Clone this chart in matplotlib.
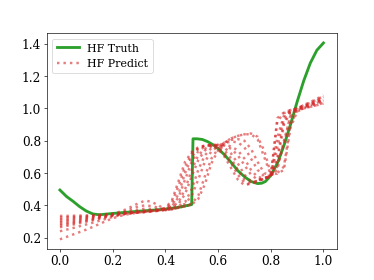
import matplotlib
matplotlib.use('Agg')
import matplotlib.pyplot as plt
import numpy as np

x_truth = [0.0, 0.025, 0.05, 0.075, 0.1, 0.125, 0.15, 0.2, 0.25, 0.3, 0.35, 0.4,
           0.45, 0.5, 0.505, 0.52, 0.54, 0.56, 0.58, 0.6, 0.625, 0.65, 0.675, 0.7,
           0.725, 0.75, 0.765, 0.78, 0.8, 0.825, 0.85, 0.875, 0.9, 0.925, 0.95,
           0.975, 1.0]
y_truth = [0.495, 0.455, 0.425, 0.392, 0.365, 0.347, 0.342, 0.350, 0.357, 0.364,
           0.370, 0.377, 0.388, 0.405, 0.812, 0.812, 0.808, 0.795, 0.776, 0.752,
           0.712, 0.665, 0.615, 0.578, 0.548, 0.535, 0.537, 0.548, 0.585, 0.660,
           0.770, 0.900, 1.040, 1.170, 1.280, 1.360, 1.405]

# HF predictions, one row per sample, on a 0.025 grid in x
x_pred = np.linspace(0.0, 1.0, 41)
hf_pred = [
    [0.335, 0.335, 0.336, 0.337, 0.338, 0.340, 0.342, 0.344, 0.346, 0.350, 0.353, 0.356, 0.360, 0.363, 0.366, 0.370,
     0.385, 0.430, 0.550, 0.670, 0.730, 0.760, 0.770, 0.770, 0.750, 0.700, 0.630, 0.560, 0.525, 0.535, 0.555, 0.570,
     0.580, 0.940, 0.975, 0.990, 1.000, 1.020, 1.040, 1.060, 1.080],
    [0.325, 0.327, 0.329, 0.331, 0.333, 0.336, 0.339, 0.342, 0.345, 0.348, 0.352, 0.356, 0.360, 0.365, 0.368, 0.372,
     0.375, 0.390, 0.420, 0.500, 0.620, 0.710, 0.750, 0.770, 0.775, 0.770, 0.750, 0.710, 0.650, 0.590, 0.560, 0.565,
     0.580, 0.700, 0.920, 0.980, 0.995, 1.010, 1.025, 1.040, 1.060],
    [0.315, 0.318, 0.321, 0.325, 0.329, 0.333, 0.337, 0.342, 0.348, 0.360, 0.375, 0.395, 0.415, 0.430, 0.420, 0.400,
     0.370, 0.375, 0.385, 0.395, 0.410, 0.460, 0.580, 0.690, 0.750, 0.790, 0.815, 0.830, 0.840, 0.840, 0.810, 0.700,
     0.590, 0.600, 0.640, 0.900, 0.985, 1.000, 1.010, 1.020, 1.035],
    [0.305, 0.309, 0.313, 0.318, 0.323, 0.328, 0.333, 0.338, 0.343, 0.347, 0.351, 0.355, 0.358, 0.362, 0.366, 0.370,
     0.380, 0.400, 0.470, 0.600, 0.700, 0.750, 0.770, 0.775, 0.770, 0.740, 0.690, 0.620, 0.560, 0.540, 0.550, 0.565,
     0.580, 0.820, 0.955, 0.985, 1.000, 1.015, 1.030, 1.050, 1.070],
    [0.295, 0.300, 0.305, 0.311, 0.317, 0.323, 0.329, 0.335, 0.342, 0.352, 0.365, 0.380, 0.395, 0.400, 0.395, 0.385,
     0.375, 0.380, 0.395, 0.420, 0.500, 0.620, 0.710, 0.755, 0.770, 0.785, 0.795, 0.790, 0.760, 0.690, 0.620, 0.580,
     0.585, 0.640, 0.780, 0.960, 0.990, 1.005, 1.020, 1.035, 1.050],
    [0.285, 0.291, 0.297, 0.304, 0.311, 0.318, 0.325, 0.332, 0.339, 0.345, 0.350, 0.354, 0.357, 0.360, 0.364, 0.368,
     0.380, 0.420, 0.520, 0.640, 0.720, 0.755, 0.770, 0.775, 0.760, 0.720, 0.660, 0.590, 0.540, 0.530, 0.550, 0.565,
     0.580, 0.920, 0.970, 0.990, 1.000, 1.020, 1.035, 1.055, 1.075],
    [0.275, 0.282, 0.289, 0.297, 0.305, 0.313, 0.321, 0.329, 0.337, 0.345, 0.355, 0.366, 0.375, 0.380, 0.378, 0.375,
     0.375, 0.385, 0.410, 0.470, 0.580, 0.680, 0.740, 0.765, 0.775, 0.775, 0.765, 0.740, 0.690, 0.620, 0.575, 0.570,
     0.580, 0.670, 0.900, 0.975, 0.995, 1.010, 1.020, 1.035, 1.055],
    [0.265, 0.273, 0.281, 0.290, 0.299, 0.308, 0.317, 0.326, 0.335, 0.342, 0.348, 0.352, 0.355, 0.358, 0.362, 0.366,
     0.370, 0.375, 0.385, 0.395, 0.405, 0.440, 0.530, 0.660, 0.740, 0.785, 0.815, 0.830, 0.840, 0.845, 0.825, 0.740,
     0.600, 0.595, 0.620, 0.880, 0.980, 1.000, 1.010, 1.020, 1.030],
    [0.240, 0.250, 0.260, 0.271, 0.282, 0.293, 0.305, 0.317, 0.328, 0.338, 0.346, 0.352, 0.357, 0.361, 0.365, 0.370,
     0.380, 0.395, 0.450, 0.560, 0.670, 0.735, 0.765, 0.775, 0.775, 0.755, 0.720, 0.660, 0.590, 0.550, 0.550, 0.565,
     0.580, 0.760, 0.940, 0.985, 1.000, 1.015, 1.030, 1.045, 1.065],
    [0.190, 0.205, 0.220, 0.235, 0.250, 0.267, 0.285, 0.303, 0.320, 0.333, 0.343, 0.350, 0.356, 0.361, 0.365, 0.370,
     0.372, 0.378, 0.390, 0.410, 0.460, 0.560, 0.670, 0.735, 0.765, 0.790, 0.805, 0.810, 0.800, 0.750, 0.670, 0.600,
     0.585, 0.620, 0.800, 0.950, 0.990, 1.000, 1.015, 1.030, 1.045],
]

plt.rcParams['font.family'] = 'DejaVu Serif'

fig, ax = plt.subplots(figsize=(6.4, 4.8), dpi=58.44)

ax.plot(x_truth, y_truth, color='tab:green', linewidth=3.5, label='HF Truth')
for i, row in enumerate(hf_pred):
    ax.plot(x_pred, row, ':', color='tab:red', linewidth=3, alpha=0.6,
            label='HF Predict' if i == 0 else None)

ax.set_yticks([0.2, 0.4, 0.6, 0.8, 1.0, 1.2, 1.4])
ax.tick_params(labelsize=15)
ax.legend(loc='upper left', fontsize=13.5)

fig.savefig('out.png', dpi=58.44)
